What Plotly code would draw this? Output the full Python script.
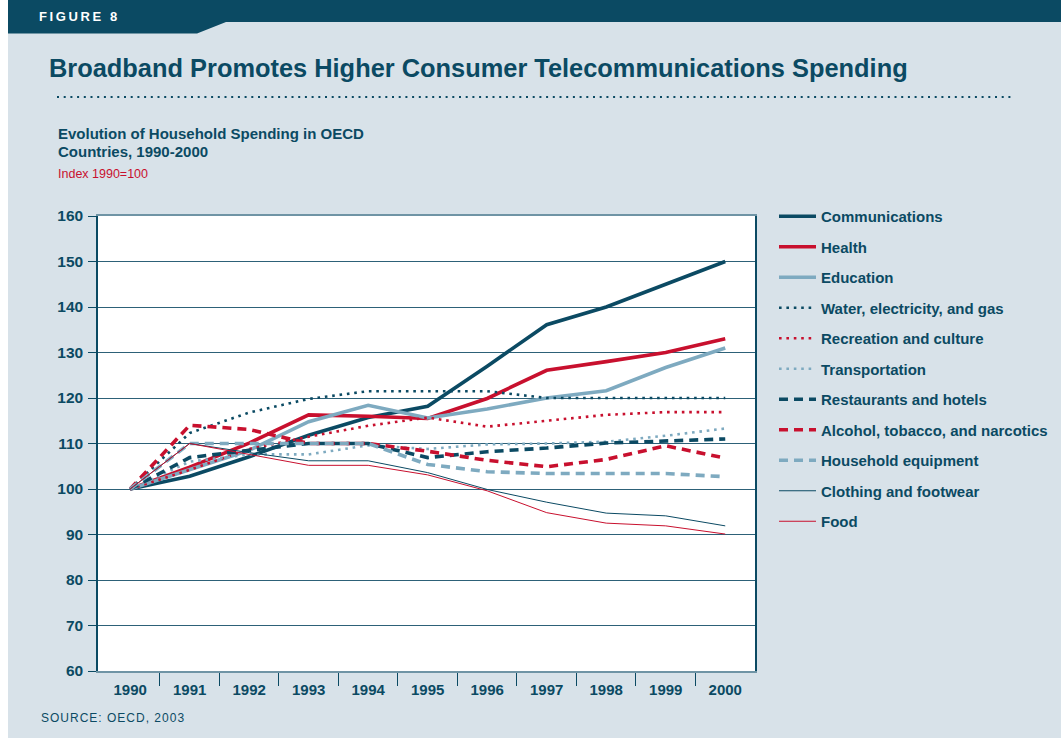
import plotly.graph_objects as go

years = ["1990", "1991", "1992", "1993", "1994", "1995", "1996", "1997", "1998", "1999", "2000"]

communications = [100, 102.8, 107.1, 111.8, 115.7, 118.2, 127.0, 136.1, 140.0, 145.0, 150.0]
health = [100, 104.8, 110.1, 116.3, 116.0, 115.5, 119.9, 126.1, 128.0, 130.0, 133.0]
education = [100, 104.3, 108.5, 114.8, 118.4, 115.6, 117.6, 120.0, 121.6, 126.7, 131.0]
water_elec_gas = [100, 112.3, 116.8, 119.8, 121.5, 121.5, 121.5, 120.0, 120.0, 120.0, 120.0]
recreation = [100, 104.2, 108.8, 111.5, 113.9, 115.7, 113.7, 115.0, 116.3, 116.9, 116.9]
transportation = [100, 106.0, 107.6, 107.6, 109.6, 108.8, 109.8, 110.0, 110.4, 111.7, 113.3]
restaurants = [100, 106.9, 108.5, 110.0, 110.0, 106.9, 108.2, 109.0, 110.1, 110.6, 111.0]
alcohol = [100, 114.0, 113.1, 110.0, 110.0, 108.3, 106.3, 104.9, 106.5, 109.5, 106.8]
household_eq = [100, 110.0, 110.0, 110.0, 110.0, 105.4, 103.8, 103.4, 103.4, 103.4, 102.7]
clothing = [100, 110.0, 108.0, 106.2, 106.2, 103.6, 99.9, 97.1, 94.7, 94.1, 91.9]
food = [100, 110.0, 107.6, 105.2, 105.2, 103.1, 99.6, 94.8, 92.5, 91.9, 90.1]

series_names = [
    "Communications", "Health", "Education", "Water, electricity, and gas",
    "Recreation and culture", "Transportation", "Restaurants and hotels",
    "Alcohol, tobacco, and narcotics", "Household equipment",
    "Clothing and footwear", "Food",
]
series_values = [communications, health, education, water_elec_gas, recreation,
                 transportation, restaurants, alcohol, household_eq, clothing, food]

y_ticks = [60, 70, 80, 90, 100, 110, 120, 130, 140, 150, 160]

DARK = "#0b4a63"
RED = "#c8102e"
LIGHT = "#7eaac0"
BG = "#d8e2e9"

DOT = "2.6px,4.8px"
DASH = "9px,6px"
styles = [
    (DARK, 3.6, "solid"),
    (RED, 3.6, "solid"),
    (LIGHT, 3.6, "solid"),
    (DARK, 2.6, DOT),
    (RED, 2.6, DOT),
    (LIGHT, 2.6, DOT),
    (DARK, 3.6, DASH),
    (RED, 3.6, DASH),
    (LIGHT, 3.6, DASH),
    (DARK, 1.0, "solid"),
    (RED, 1.0, "solid"),
]

W, H = 1061, 738
L, R, T, B = 98, 306, 216, 67
PW, PH = W - L - R, H - T - B


def px(x):
    return (x - L) / PW


def py(y):
    return (H - B - y) / PH


x_num = [int(y) for y in years]
boundaries = [v + 0.5 for v in x_num[:-1]]

fig = go.Figure()
for i, (name, vals) in enumerate(zip(series_names, series_values)):
    color, width, dash = styles[i]
    fig.add_trace(go.Scatter(
        x=x_num, y=vals, mode="lines", name=name, legendgroup=f"g{i}",
        line=dict(color=color, width=width, dash=dash),
    ))

font_family = "Liberation Sans, Arial, sans-serif"

sp = "\u2009"
annotations = [
    dict(text="<b>" + sp.join("FIGURE 8") + "</b>", x=px(37), y=py(16),
         font=dict(size=13, color="white")),
    dict(text="<b>Broadband Promotes Higher Consumer Telecommunications Spending</b>",
         x=px(47), y=py(68), font=dict(size=25.4, color=DARK)),
    dict(text="<b>Evolution of Household Spending in OECD</b>", x=px(56), y=py(133),
         font=dict(size=15, color=DARK)),
    dict(text="<b>Countries, 1990-2000</b>", x=px(56), y=py(151),
         font=dict(size=15, color=DARK)),
    dict(text="Index 1990=100", x=px(56), y=py(174), font=dict(size=12.5, color=RED)),
    dict(text="S\u200aO\u200aU\u200aR\u200aC\u200aE\u200a:\u200a \u200aO\u200aE\u200aC\u200aD\u200a,\u200a \u200a2\u200a0\u200a0\u200a3",
         x=px(39), y=py(718), font=dict(size=12, color=DARK)),
]
for a in annotations:
    a.update(xref="paper", yref="paper", xanchor="left", yanchor="middle",
             showarrow=False)

band_path = (f"M {px(8)},{py(0)} L {px(W)},{py(0)} L {px(W)},{py(22)} "
             f"L {px(226)},{py(22)} L {px(197)},{py(33.5)} L {px(8)},{py(33.5)} Z")

shapes = [
    dict(type="rect", xref="paper", yref="paper", x0=px(0), x1=px(8), y0=py(H), y1=py(0),
         fillcolor="white", line=dict(width=0), layer="below"),
    dict(type="path", xref="paper", yref="paper", path=band_path,
         fillcolor=DARK, line=dict(width=0), layer="below"),
    dict(type="line", xref="paper", yref="paper", x0=px(57), x1=px(1013), y0=py(97), y1=py(97),
         line=dict(color=DARK, width=2, dash="2px,4.7px")),
]

fig.update_layout(
    width=W, height=H,
    margin=dict(l=L, r=R, t=T, b=B, pad=0, autoexpand=False),
    paper_bgcolor=BG, plot_bgcolor="white",
    font=dict(family=font_family, color=DARK),
    showlegend=True,
    legend=dict(
        x=px(774), y=py(200), xanchor="left", yanchor="top",
        xref="paper", yref="paper",
        bgcolor="rgba(0,0,0,0)", borderwidth=0,
        font=dict(size=15, color=DARK, weight="bold"),
        traceorder="grouped", tracegroupgap=8, itemwidth=37,
    ),
    xaxis=dict(
        range=[x_num[0] - 0.54, x_num[-1] + 0.5],
        tickvals=x_num, ticktext=years, ticks="",
        minor=dict(tickvals=boundaries, ticks="outside", ticklen=13,
                   tickcolor=DARK, tickwidth=1, showgrid=False),
        showline=True, linecolor="#6f94a5", linewidth=1.5, mirror=True,
        showgrid=False, zeroline=False, automargin=False,
        tickfont=dict(size=15, color=DARK, weight="bold"),
        ticklabelstandoff=4,
        fixedrange=True,
    ),
    yaxis=dict(
        range=[60, 160], tickvals=y_ticks, ticktext=[str(v) for v in y_ticks],
        ticks="outside", ticklen=8, tickcolor=DARK, tickwidth=1,
        showline=True, linecolor=DARK, linewidth=1.5, mirror=True,
        showgrid=True, gridcolor="#2d6178", gridwidth=1, zeroline=False,
        automargin=False,
        tickfont=dict(size=15.5, color=DARK, weight="bold"),
        ticklabelstandoff=2,
        fixedrange=True,
    ),
    annotations=annotations,
    shapes=shapes,
)

fig.write_html("out.html")
